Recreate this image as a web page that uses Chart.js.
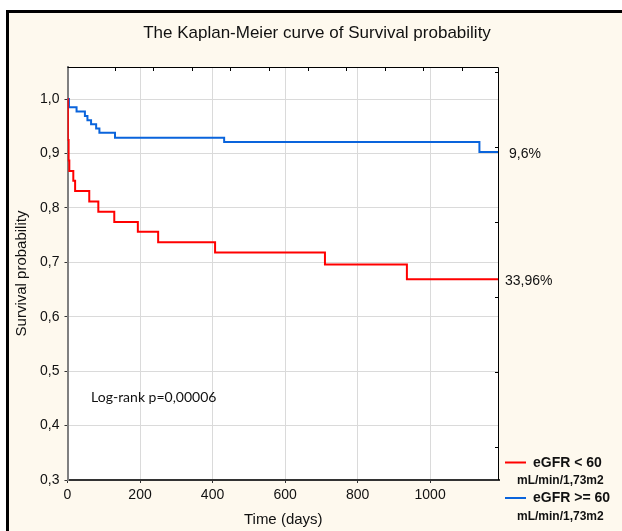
<!DOCTYPE html>
<html>
<head>
<meta charset="utf-8">
<script src="https://cdn.jsdelivr.net/npm/chart.js@4"></script>
<style>
  body { margin: 0; background: #fff; overflow: hidden; }
  #frame {
    position: absolute; left: 6px; top: 10px; width: 700px; height: 600px;
    border: 3px solid #000; background: #fef9ee;
  }
  #chart { position: absolute; left: 0; top: 0; }
</style>
</head>
<body>
<div id="frame"></div>
<canvas id="chart" width="622" height="531"></canvas>
<script>
// Dados (tempo em dias, sobrevivência acumulada)
const redTimes = [0, 1, 3, 5, 16, 21, 60, 85, 129, 194, 250, 407, 710, 936, 1190];
const redSurv = [1.0, 0.925, 0.887, 0.868, 0.850, 0.831, 0.812, 0.793, 0.774, 0.756, 0.737, 0.718, 0.696, 0.669, 0.669];
const blueTimes = [0, 4, 25, 48, 55, 65, 79, 88, 131, 432, 1136, 1190];
const blueSurv = [1.0, 0.985, 0.977, 0.969, 0.961, 0.954, 0.946, 0.938, 0.929, 0.921, 0.903, 0.903];

const xTicks = [0, 200, 400, 600, 800, 1000];
const yTicks = [0.3, 0.4, 0.5, 0.6, 0.7, 0.8, 0.9, 1.0];
const topMinorTicks = [0, 1, 2, 3, 4, 5, 6, 7, 8, 9];
const rightMinorTicks = [0, 1, 2, 3, 4, 5];

const seriesLabels = ['eGFR < 60', 'eGFR >= 60'];
const unitLabel = 'mL/min/1,73m2';
const endLabels = ['33,96%', '9,6%'];
const chartTitle = 'The Kaplan-Meier curve of Survival probability';
const logRankText = 'Log-rank p=0,00006';
const logRankPos = { x: 65, y: 0.452 };

const FONT = "'Liberation Sans', Arial, sans-serif";

function toPoints(times, surv) {
    return times.map((t, i) => ({ x: t, y: surv[i] }));
}

// Desenho das partes que o Chart.js não faz sozinho
const decorPlugin = {
    id: 'decor',
    beforeDraw(chart) {
        const { ctx, chartArea: a } = chart;
        ctx.save();
        ctx.fillStyle = '#fff';
        ctx.fillRect(a.left, a.top, a.right - a.left, a.bottom - a.top);
        ctx.restore();
    },
    afterDraw(chart) {
        const { ctx, chartArea: a, scales } = chart;
        ctx.save();

        // moldura do gráfico
        ctx.strokeStyle = '#000';
        ctx.lineWidth = 1;
        ctx.beginPath();
        ctx.moveTo(a.left, a.top + 0.5);
        ctx.lineTo(a.right - 0.5, a.top + 0.5);
        ctx.lineTo(a.right - 0.5, a.bottom);
        ctx.stroke();

        // pequenos traços internos (eixos secundários)
        ctx.beginPath();
        topMinorTicks.forEach(v => {
            const x = Math.round(scales.xTop.getPixelForValue(v)) + 0.5;
            ctx.moveTo(x, a.top);
            ctx.lineTo(x, a.top + 4);
        });
        rightMinorTicks.forEach(v => {
            const y = Math.round(scales.yRight.getPixelForValue(v)) + 0.5;
            ctx.moveTo(a.right, y);
            ctx.lineTo(a.right - 4, y);
        });
        ctx.stroke();

        // título
        ctx.fillStyle = '#111';
        ctx.font = '17px ' + FONT;
        ctx.textAlign = 'center';
        ctx.textBaseline = 'middle';
        ctx.fillText(chartTitle, 317, 33);

        // rótulos no fim das curvas
        ctx.font = '14px ' + FONT;
        ctx.textAlign = 'left';
        const offsets = [6, 10];
        chart.data.datasets.forEach((ds, i) => {
            const last = ds.data[ds.data.length - 1];
            const y = scales.y.getPixelForValue(last.y) + 2;
            ctx.fillText(endLabels[i], a.right + offsets[i], y);
        });

        // teste log-rank
        ctx.font = '14px Lato, ' + FONT;
        ctx.fillText(logRankText, scales.x.getPixelForValue(logRankPos.x), scales.y.getPixelForValue(logRankPos.y));

        // legenda
        const legendTop = 462;
        const rowGap = 35.5;
        chart.data.datasets.forEach((ds, i) => {
            const y = legendTop + i * rowGap;
            ctx.strokeStyle = ds.borderColor;
            ctx.lineWidth = 2;
            ctx.beginPath();
            ctx.moveTo(505, y + 0.5);
            ctx.lineTo(526, y + 0.5);
            ctx.stroke();
            ctx.fillStyle = '#111';
            ctx.font = 'bold 14px ' + FONT;
            ctx.fillText(seriesLabels[i], 533, y + 1);
            ctx.font = 'bold 12px ' + FONT;
            ctx.fillText(unitLabel, 517, y + 19);
        });
        ctx.restore();
    }
};

const ctx = document.getElementById('chart').getContext('2d');
new Chart(ctx, {
    type: 'line',
    data: {
        datasets: [
            {
                label: seriesLabels[0],
                data: toPoints(redTimes, redSurv),
                borderColor: '#ff0000',
                borderWidth: 2,
                pointRadius: 0,
                stepped: true,
                fill: false,
            },
            {
                label: seriesLabels[1],
                data: toPoints(blueTimes, blueSurv),
                borderColor: '#0a64dc',
                borderWidth: 2,
                pointRadius: 0,
                stepped: true,
                fill: false,
            },
        ],
    },
    options: {
        responsive: false,
        animation: false,
        devicePixelRatio: 1,
        layout: { padding: { left: 0, right: 123, top: 67, bottom: 0 } },
        plugins: {
            legend: { display: false },
            tooltip: { enabled: false },
            title: { display: false },
        },
        scales: {
            x: {
                type: 'linear',
                min: 0,
                max: 1190,
                afterBuildTicks: s => { s.ticks = xTicks.map(v => ({ value: v })); },
                afterFit: s => { s.height = 51; },
                ticks: {
                    color: '#111',
                    font: { family: FONT, size: 14 },
                    padding: 4,
                    maxRotation: 0,
                    callback: v => String(v),
                },
                grid: { color: '#dadada', lineWidth: 1, tickColor: '#333', tickLength: 3 },
                border: { color: '#333', width: 2 },
                title: { display: true, text: 'Time (days)', color: '#111', font: { family: FONT, size: 15 }, padding: { top: 0, bottom: 2 } },
            },
            y: {
                min: 0.3,
                max: 1.059,
                afterBuildTicks: s => { s.ticks = yTicks.map(v => ({ value: v })); },
                afterFit: s => { s.width = 67.5; },
                ticks: {
                    color: '#111',
                    font: { family: FONT, size: 14 },
                    padding: 5,
                    callback: v => v.toFixed(1).replace('.', ','),
                },
                grid: { color: '#dadada', lineWidth: 1, tickColor: '#333', tickLength: 3 },
                border: { color: '#808080', width: 2 },
                title: { display: true, text: 'Survival probability', color: '#111', font: { family: FONT, size: 15 }, padding: { top: 13, bottom: 0 } },
            },
            xTop: {
                type: 'linear',
                position: 'top',
                min: -1.23,
                max: 9.97,
                afterFit: s => { s.height = 0; },
                ticks: { display: false },
                grid: { display: false },
                border: { display: false },
            },
            yRight: {
                type: 'linear',
                position: 'right',
                min: -0.444,
                max: 5.063,
                afterFit: s => { s.width = 0; },
                ticks: { display: false },
                grid: { display: false },
                border: { display: false },
            },
        },
    },
    plugins: [decorPlugin],
});
</script>
</body>
</html>
